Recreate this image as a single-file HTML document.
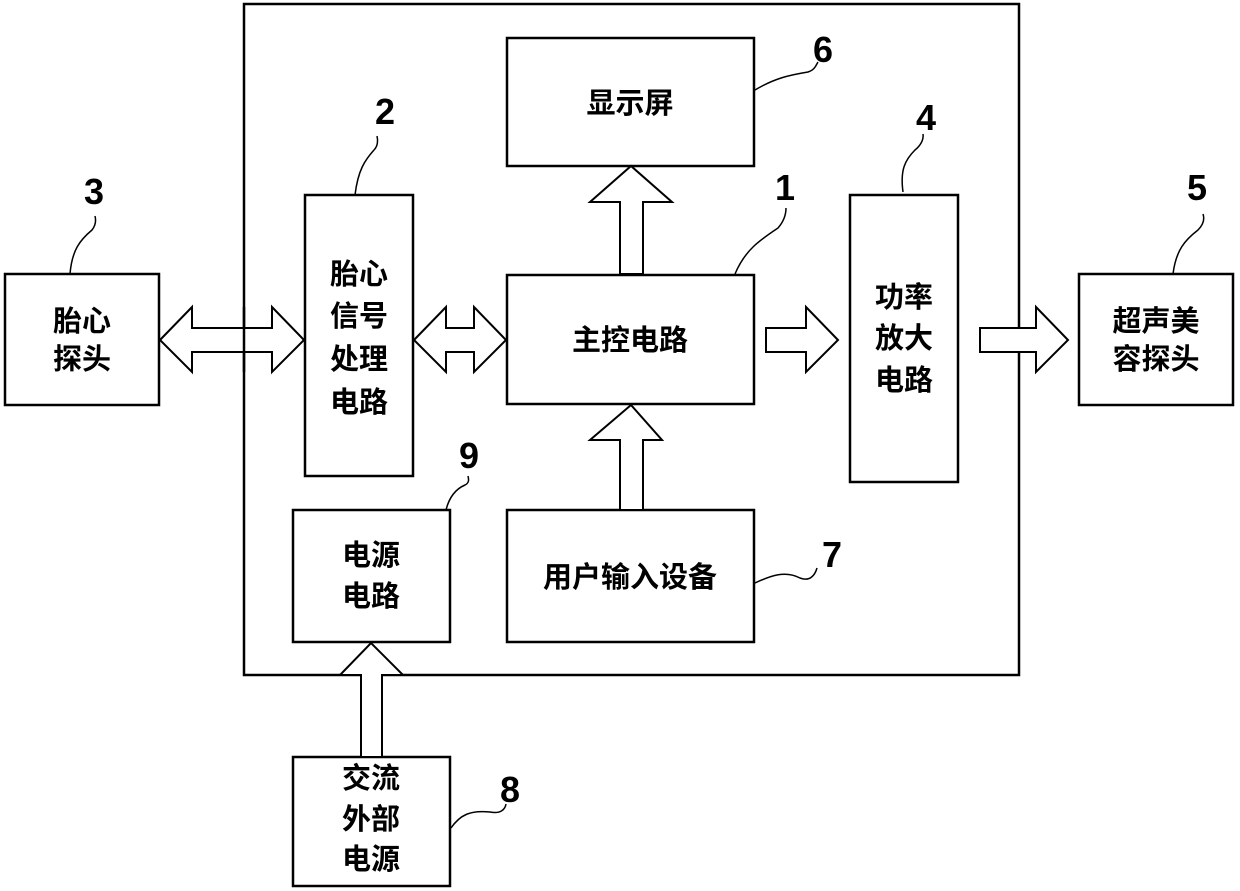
<!DOCTYPE html>
<html><head><meta charset="utf-8"><style>
html,body{margin:0;padding:0;background:#fff;}
svg{display:block;}
.t{font-family:"Liberation Sans","Noto Sans CJK SC",sans-serif;font-weight:bold;font-size:29px;fill:#000;text-anchor:middle;}
.n{font-family:"Liberation Sans",sans-serif;font-weight:bold;font-size:36px;fill:#000;text-anchor:middle;}
</style></head><body>
<svg width="1240" height="891" viewBox="0 0 1240 891" xmlns="http://www.w3.org/2000/svg">
<g fill="none" stroke="#000" stroke-width="2.5">
<rect x="244" y="4" width="775" height="671"/>
<rect x="5" y="274" width="154" height="131" fill="#fff"/>
<rect x="305" y="195" width="108" height="281" fill="#fff"/>
<rect x="507" y="38" width="247" height="128"/>
<rect x="507" y="275" width="247" height="129"/>
<rect x="850" y="195" width="108" height="287"/>
<rect x="1079" y="274" width="154" height="131"/>
<rect x="293" y="510" width="157" height="132"/>
<rect x="507" y="510" width="247" height="132"/>
<rect x="293" y="757" width="157" height="129"/>
</g>
<g fill="#fff" stroke="#000" stroke-width="2">
<polygon points="160,340 192,307 192,328 272,328 272,307 304,340 272,372 272,352 192,352 192,372"/>
<polygon points="414,340 446,307 446,328 474,328 474,307 506,340 474,372 474,352 446,352 446,372"/>
<polygon points="620,274 620,202 590,202 631,166 672,202 643,202 643,274"/>
<polygon points="766,328 806,328 806,307 838,340 806,372 806,352 766,352"/>
<polygon points="980,328 1036,328 1036,307 1068,340 1036,372 1036,352 980,352"/>
<polygon points="620,510 620,440 590,440 631,405 662,440 643,440 643,510"/>
<polygon points="361,757 361,675 340,675 371,643 403,675 382,675 382,757"/>
</g>
<line x1="244" y1="307" x2="244" y2="372" stroke="#000" stroke-width="2.5"/>
<g fill="none" stroke="#000" stroke-width="1.5">
<path d="M755,90 C775,78 790,75 808,72 C815,70 816,65 818,62"/>
<path d="M355,195 C358,170 365,160 374,150 C378,146 378,140 377,136"/>
<path d="M903,192 C900,170 905,160 915,150 C920,146 924,140 923,134"/>
<path d="M735,274 C745,250 760,240 778,228 C785,220 786,212 786,208"/>
<path d="M70,274 C72,250 80,240 92,230 C96,225 96,220 95,216"/>
<path d="M1173,274 C1176,250 1185,240 1198,230 C1203,225 1205,220 1203,214"/>
<path d="M446,510 C450,494 458,488 465,485 C469,483 469,480 468,476"/>
<path d="M755,583 C770,576 785,570 800,578 C810,582 815,575 817,568"/>
<path d="M451,828 C460,815 470,810 490,812 C500,814 505,810 506,804"/>
</g>
<g class="n">
<text x="823" y="62">6</text>
<text x="385" y="124">2</text>
<text x="926" y="130">4</text>
<text x="785" y="200">1</text>
<text x="94" y="204">3</text>
<text x="1197" y="200">5</text>
<text x="469" y="468">9</text>
<text x="832" y="567">7</text>
<text x="510" y="802">8</text>
</g>
<g class="t">
<text x="82" y="331">胎心</text>
<text x="82" y="369">探头</text>
<text x="359" y="284">胎心</text>
<text x="359" y="326">信号</text>
<text x="359" y="369">处理</text>
<text x="359" y="412">电路</text>
<text x="630" y="113">显示屏</text>
<text x="630" y="350">主控电路</text>
<text x="904" y="307">功率</text>
<text x="904" y="348">放大</text>
<text x="904" y="390">电路</text>
<text x="1156" y="331">超声美</text>
<text x="1156" y="369">容探头</text>
<text x="371" y="565">电源</text>
<text x="371" y="606">电路</text>
<text x="630" y="587">用户输入设备</text>
<text x="371" y="788">交流</text>
<text x="371" y="829">外部</text>
<text x="371" y="869">电源</text>
</g>
</svg>
</body></html>
